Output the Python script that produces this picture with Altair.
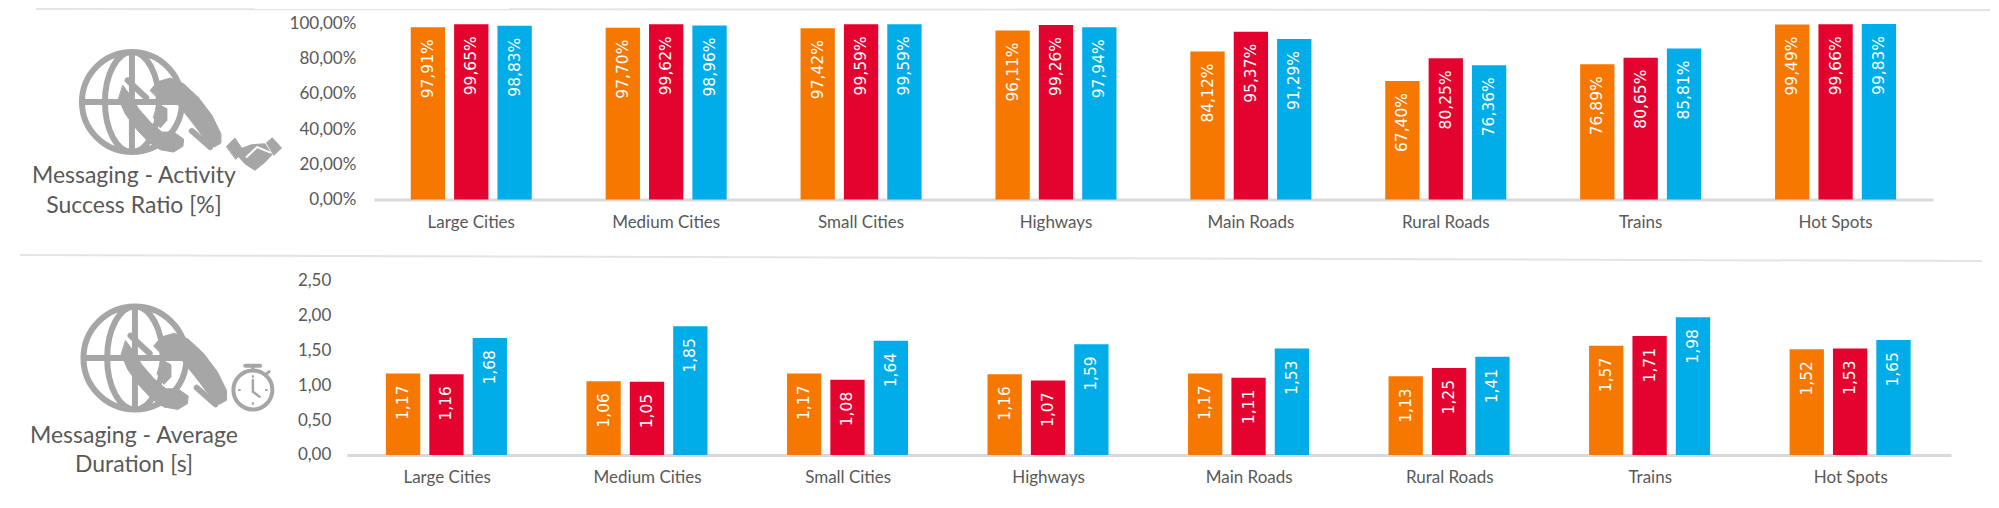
import altair as alt
import pandas as pd

categories = ["Large Cities", "Medium Cities", "Small Cities", "Highways",
              "Main Roads", "Rural Roads", "Trains", "Hot Spots"]
series = ["Operator 1", "Operator 2", "Operator 3"]
colors = ["#F77800", "#E4032E", "#00ADE8"]

success_1 = [97.91, 97.70, 97.42, 96.11, 84.12, 67.40, 76.89, 99.49]
success_2 = [99.65, 99.62, 99.59, 99.26, 95.37, 80.25, 80.65, 99.66]
success_3 = [98.83, 98.96, 99.59, 97.94, 91.29, 76.36, 85.81, 99.83]

duration_1 = [1.17, 1.06, 1.17, 1.16, 1.17, 1.13, 1.57, 1.52]
duration_2 = [1.16, 1.05, 1.08, 1.07, 1.11, 1.25, 1.71, 1.53]
duration_3 = [1.68, 1.85, 1.64, 1.59, 1.53, 1.41, 1.98, 1.65]

GRAY = "#A6A6A6"
TXT = "#595959"
AXFONT = "Lato"
M = 8  # page margin


def table(a, b, c, suffix):
    rows = []
    for s, vals in zip(series, (a, b, c)):
        for cat, v in zip(categories, vals):
            rows.append({"cat": cat, "s": s, "v": v,
                         "lab": f"{v:.2f}".replace(".", ",") + suffix})
    return pd.DataFrame(rows)


def path(pts, ox, oy, close=True):
    d = "M" + "L".join(f"{(x - ox) / 3:.1f},{(y - oy) / 3:.1f}" for x, y in pts)
    return d + ("Z" if close else "")


def shape(d, cx, cy, scale=1.0, filled=True, width=1.0, color=GRAY):
    return alt.Chart(pd.DataFrame({"i": [0]})).mark_point(
        shape=d, size=4 * scale * scale, filled=filled, opacity=1,
        stroke=color, strokeWidth=width, strokeJoin="round", strokeCap="round",
        **({"fill": color} if filled else {}),
    ).encode(x=alt.value(cx - M), y=alt.value(cy - M))


GLOBE = ("M-50,0A50,50 0 1,1 50,0A50,50 0 1,1 -50,0Z"
         "M0,-50L0,50M-50,0L50,0"
         "M0,-50A27,50 0 0,0 0,50A27,50 0 0,0 0,-50Z")
O = (185, 185)
CRESCENT = path([(240, 150), (262, 124), (300, 113), (340, 130), (385, 172), (425, 225),
                 (452, 280), (452, 308), (432, 320), (405, 298), (365, 245), (325, 195),
                 (295, 178), (262, 172)], *O)
CUP = path([(158, 135), (180, 165), (205, 205), (240, 245), (275, 275), (310, 275),
            (340, 296), (338, 318), (310, 335), (270, 328), (235, 305), (200, 268),
            (165, 220), (145, 175)], *O)
BLOCK = path([(262, 190), (290, 205), (290, 240), (270, 262), (250, 232)], *O)
ROD1 = path([(172, 120), (228, 172)], *O, close=False)
ROD2 = path([(365, 272), (420, 320)], *O, close=False)
HS = (555, 340)
CUFF_L = path([(470, 320), (495, 295), (522, 335), (498, 358)], *HS)
CUFF_R = path([(608, 295), (635, 325), (612, 347), (590, 310)], *HS)
HANDS = path([(510, 328), (545, 315), (585, 312), (606, 345), (585, 368), (555, 392),
              (525, 372), (505, 350)], *HS)
THUMB = path([(530, 352), (562, 322), (600, 338)], *HS, close=False)
SW = (548, 285)
WATCH = path([(525, 212), (570, 212)], *SW, close=False)
STEM = path([(548, 212), (548, 225)], *SW, close=False)
KNOB = path([(585, 240), (597, 230)], *SW, close=False)
HANDS_W = path([(548, 255), (548, 290), (568, 305)], *SW, close=False)
DIAL = "M-19.5,0A19.5,19.5 0 1,1 19.5,0A19.5,19.5 0 1,1 -19.5,0Z"
DOTS = "M0,-14L0,-13M14,0L13,0M0,14L0,13M-14,0L-13,0"


def globe(cx, cy, scale):
    return [shape(GLOBE, cx, cy, scale, filled=False, width=6),
            shape(CRESCENT, cx, cy, scale),
            shape(CUP, cx, cy, scale),
            shape(BLOCK, cx, cy, scale),
            shape(ROD1, cx, cy, scale, filled=False, width=6),
            shape(ROD2, cx, cy, scale, filled=False, width=6)]


def label(txt, x, y):
    return alt.Chart(pd.DataFrame({"i": [0]})).mark_text(
        text=txt, font=AXFONT, fontSize=23, color=TXT, align="center", baseline="middle"
    ).encode(x=alt.value(x - M), y=alt.value(y - M))


def sep(x1, y1, x2, y2):
    return alt.Chart(pd.DataFrame({"i": [0]})).mark_rule(
        color="#E4E4E4", strokeWidth=2
    ).encode(x=alt.value(x1), x2=alt.value(x2), y=alt.value(y1), y2=alt.value(y2))


def panel(df, height, ymax, y0, y1, x0, x1, bpi, label_expr, ticks, lab_pad, extras):
    base = alt.Chart(df)
    x = alt.X("cat:N", sort=categories, title=None,
              scale=alt.Scale(range=[x0 - M, x1 - M], paddingInner=bpi, paddingOuter=bpi / 2),
              axis=alt.Axis(labelAngle=0, ticks=False, domainColor="#D9D9D9", domainWidth=3,
                            labelFont=AXFONT, labelFontSize=17, labelColor=TXT,
                            labelPadding=15, offset=-(height - y0),
                            labelOverlap=False))
    y = alt.Y("v:Q", title=None,
              scale=alt.Scale(domain=[0, ymax], range=[y0, y1], nice=False),
              axis=alt.Axis(domain=False, ticks=False, grid=False, values=ticks,
                            labelFont=AXFONT, labelFontSize=17, labelColor=TXT,
                            labelPadding=lab_pad, offset=-(x0 - M), labelExpr=label_expr))
    xo = alt.XOffset("s:N", sort=series,
                     scale=alt.Scale(domain=series, paddingInner=0.209, paddingOuter=0))
    bars = base.mark_bar().encode(
        x=x, y=y, xOffset=xo,
        color=alt.Color("s:N", sort=series, legend=None,
                        scale=alt.Scale(domain=series, range=colors)))
    text = base.mark_text(angle=270, align="right", baseline="middle", dx=-12,
                          color="white", font="DejaVu Sans", fontSize=15.5).encode(
        x=x, y=y, xOffset=xo, text="lab:N")
    return alt.layer(bars, text, *extras).properties(width=1983, height=height)


H1 = 246
H2 = 244
P2 = M + H1  # page y of the second panel's top

top_extras = [sep(36 - M, 1, 1983, 2)] + globe(132, 102, 1.0) + [
    shape(CUFF_L, 255, 153), shape(CUFF_R, 255, 153), shape(HANDS, 255, 153),
    shape(THUMB, 255, 153, filled=False, width=2, color="white"),
    label("Messaging - Activity", 134, 176), label("Success Ratio [%]", 134, 206),
]


def shift(y):
    return y - H1


bottom_extras = [sep(20 - M, 1, 1975, 7)] + globe(135, shift(358), 1.03) + [
    shape(DIAL, 253, shift(390), filled=False, width=4),
    shape(WATCH, 253, shift(390), filled=False, width=4),
    shape(STEM, 253, shift(390), filled=False, width=3),
    shape(KNOB, 253, shift(390), filled=False, width=3),
    shape(HANDS_W, 253, shift(390), filled=False, width=2.5),
    shape(DOTS, 253, shift(390), filled=False, width=2),
    label("Messaging - Average", 134, shift(436)), label("Duration [s]", 134, shift(465)),
]

top = panel(table(success_1, success_2, success_3, "%"), H1, 100, 199.5 - M, 23.5 - M,
            374, 1934, 0.379,
            "replace(format(datum.value,'.2f'),'.',',')+'%'",
            [0, 20, 40, 60, 80, 100], 18, top_extras)
bottom = panel(table(duration_1, duration_2, duration_3, ""), H2, 2.5,
               455 - P2, 281 - P2, 347, 1952, 0.39,
               "replace(format(datum.value,'.2f'),'.',',')",
               [0, 0.5, 1, 1.5, 2, 2.5], 16, bottom_extras)

chart = alt.vconcat(top, bottom, spacing=0, padding=0).configure_view(stroke=None)
chart.save("out.html", embed_options={"renderer": "svg", "actions": False})
